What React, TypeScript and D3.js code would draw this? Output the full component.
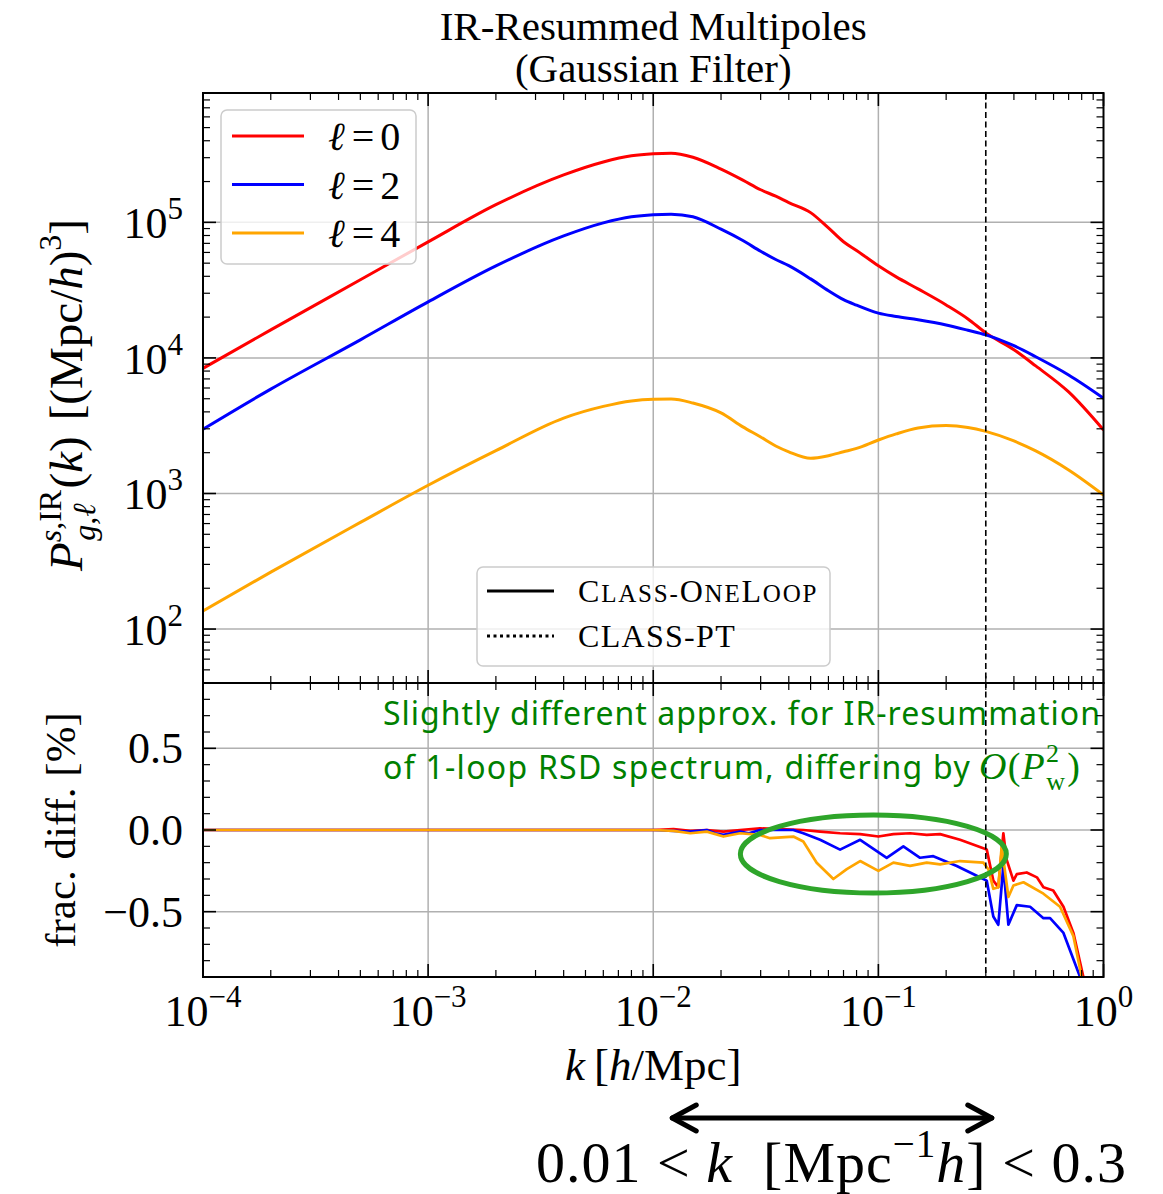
import React from 'react';
import * as d3 from 'd3';

// top panel: IR-resummed multipoles P_l(k)  [(Mpc/h)^3]
const kTop = [1e-4, 2e-4, 5e-4, 1e-3, 2e-3, 4e-3, 6e-3, 8e-3, 0.01, 0.012, 0.015, 0.02, 0.025, 0.03, 0.035, 0.04, 0.05, 0.06, 0.07, 0.08, 0.1, 0.12, 0.15, 0.2, 0.25, 0.3, 0.4, 0.5, 0.7, 1.0];
const pEll0 = [8380, 16100, 37700, 71800, 135000, 224000, 279000, 310000, 321000, 324000, 302000, 247000, 205000, 174000, 156000, 140000, 118000, 91000, 72000, 62000, 47800, 39600, 32300, 24600, 19400, 15300, 11500, 8730, 5610, 2940];
const pEll2 = [2980, 5890, 13600, 25900, 47700, 79400, 99100, 110000, 114000, 115000, 110000, 89000, 73400, 61200, 53200, 47900, 38300, 31300, 26900, 24500, 21400, 20200, 19100, 17500, 16000, 14800, 12300, 10200, 7490, 5050];
const pEll4 = [136, 263, 612, 1150, 2070, 3600, 4390, 4820, 4960, 4980, 4650, 3930, 3100, 2610, 2240, 2030, 1820, 1900, 2030, 2150, 2480, 2750, 3040, 3170, 3070, 2870, 2440, 2060, 1490, 975];

// bottom panel: fractional difference [%]
const kDiff0 = [1e-4, 0.003, 0.01, 0.0123, 0.0146, 0.0173, 0.0205, 0.0243, 0.0298, 0.0366, 0.0464, 0.0551, 0.0676, 0.083, 0.1, 0.1166, 0.1383, 0.164, 0.188, 0.2306, 0.303, 0.324, 0.341, 0.359, 0.371, 0.398, 0.412, 0.456, 0.506, 0.541, 0.598, 0.664, 0.735, 0.814, 0.86];
const diff0 = [0, 0, 0, 0.005, -0.005, 0, -0.01, 0, 0.01, 0.005, 0, -0.01, -0.02, -0.025, -0.04, -0.025, -0.02, -0.03, -0.025, -0.06, -0.12, -0.31, -0.35, -0.02, -0.18, -0.31, -0.27, -0.26, -0.29, -0.35, -0.37, -0.47, -0.63, -0.9, -1.1];
const kDiff2 = [1e-4, 0.003, 0.01, 0.0123, 0.0146, 0.0173, 0.0188, 0.0205, 0.0243, 0.0266, 0.0298, 0.0419, 0.0464, 0.0551, 0.0676, 0.083, 0.1089, 0.1291, 0.1532, 0.1754, 0.223, 0.2926, 0.303, 0.324, 0.341, 0.359, 0.378, 0.412, 0.472, 0.541, 0.579, 0.664, 0.787, 0.83];
const diff2 = [0, 0, 0, -0.005, -0.01, 0, -0.02, -0.03, -0.01, -0.02, 0, 0, -0.02, -0.06, -0.12, -0.06, -0.17, -0.1, -0.17, -0.16, -0.22, -0.3, -0.31, -0.53, -0.58, -0.22, -0.58, -0.46, -0.47, -0.54, -0.54, -0.63, -0.9, -1.1];
const kDiff4 = [1e-4, 0.003, 0.01, 0.0123, 0.0146, 0.0173, 0.0205, 0.0243, 0.0298, 0.033, 0.0419, 0.0464, 0.0532, 0.0631, 0.0724, 0.083, 0.1, 0.1166, 0.1383, 0.164, 0.188, 0.2306, 0.2926, 0.308, 0.324, 0.341, 0.353, 0.378, 0.398, 0.441, 0.541, 0.641, 0.735, 0.8, 0.84];
const diff4 = [0, 0, 0, -0.005, -0.02, -0.01, -0.04, -0.02, -0.03, -0.05, -0.04, -0.07, -0.2, -0.3, -0.24, -0.19, -0.25, -0.2, -0.22, -0.2, -0.21, -0.19, -0.2, -0.24, -0.36, -0.35, -0.1, -0.41, -0.34, -0.32, -0.39, -0.47, -0.65, -0.9, -1.1];

const ells = ['0', '2', '4'];
const colors = ['red', 'blue', 'orange'];
const xTickExps = [-4, -3, -2, -1, 0];
const yTopTickExps = [2, 3, 4, 5];
const yBotTicks = [-0.5, 0, 0.5];
const yBotTickLabels = ['\u22120.5', '0.0', '0.5'];
const kCut = 0.3;
const kRange = [0.01, 0.3];
const ellipseCenter = { k: 0.095, v: -0.147 };

const W = 1163, H = 1194;
const L = 203, R = 1103.5, T = 93, MID = 683, B = 977;
const serif = "'Liberation Serif', 'Times New Roman', Times, serif";
const sans = "'Noto Sans', 'Open Sans', sans-serif";

const x = d3.scaleLog().domain([1e-4, 1]).range([L, R]);
const yTop = d3.scaleLog().domain([40, 9e5]).range([MID, T]);
const yBot = d3.scaleLinear().domain([-0.9, 0.9]).range([B, MID]);

const topLine = d3.line<[number, number]>()
  .x(d => x(d[0]))
  .y(d => yTop(d[1]))
  .curve(d3.curveMonotoneX);
const botLine = d3.line<[number, number]>()
  .x(d => x(d[0]))
  .y(d => yBot(d[1]));

const topSeries = [pEll0, pEll2, pEll4].map(p => kTop.map((k, i) => [k, p[i]] as [number, number]));
const botSeries = [[kDiff0, diff0], [kDiff2, diff2], [kDiff4, diff4]]
  .map(([ks, vs]) => ks.map((k, i) => [k, vs[i]] as [number, number]));

const xMajor = xTickExps.map(e => Math.pow(10, e));
const xMinor: number[] = [];
for (let e = -4; e < 0; e++) for (let m = 2; m <= 9; m++) xMinor.push(m * Math.pow(10, e));
const yTopMajor = yTopTickExps.map(e => Math.pow(10, e));
const yTopMinor: number[] = [];
for (let e = 1; e <= 5; e++) for (let m = 2; m <= 9; m++) {
  const v = m * Math.pow(10, e);
  if (v >= 40 && v <= 9e5) yTopMinor.push(v);
}
const yBotMinor = d3.range(-9, 10).map(i => i / 10).filter(v => Math.abs(v * 2 - Math.round(v * 2)) > 1e-6);

const MAJ = 13, MIN = 7;

function XTicks({ y0, dir }: { y0: number; dir: number }) {
  return (
    <g stroke="black">
      {xMajor.map(v => <line key={'M' + v} x1={x(v)} x2={x(v)} y1={y0} y2={y0 + dir * MAJ} strokeWidth={1.6} />)}
      {xMinor.map(v => <line key={'m' + v} x1={x(v)} x2={x(v)} y1={y0} y2={y0 + dir * MIN} strokeWidth={1.2} />)}
    </g>
  );
}

function YTicks({ scale, major, minor }: { scale: (v: number) => number; major: number[]; minor: number[] }) {
  return (
    <g stroke="black">
      {major.map(v => (
        <g key={'M' + v}>
          <line x1={L} x2={L + MAJ} y1={scale(v)} y2={scale(v)} strokeWidth={1.6} />
          <line x1={R} x2={R - MAJ} y1={scale(v)} y2={scale(v)} strokeWidth={1.6} />
        </g>
      ))}
      {minor.map(v => (
        <g key={'m' + v}>
          <line x1={L} x2={L + MIN} y1={scale(v)} y2={scale(v)} strokeWidth={1.2} />
          <line x1={R} x2={R - MIN} y1={scale(v)} y2={scale(v)} strokeWidth={1.2} />
        </g>
      ))}
    </g>
  );
}

function Pow({ px, py, exp, anchor }: { px: number; py: number; exp: string; anchor: string }) {
  return (
    <text x={px} y={py} textAnchor={anchor} fontSize={44} fontFamily={serif}>
      10<tspan dy={-19} fontSize={31}>{exp}</tspan>
    </text>
  );
}

// small caps built by hand: [text, isCap]
const oneLoopParts: [string, boolean][] = [['C', true], ['LASS-', false], ['O', true], ['NE', false], ['L', true], ['OOP', false]];

export default function App() {
  const ec = { cx: x(ellipseCenter.k), cy: yBot(ellipseCenter.v) };
  const a0 = x(kRange[0]) + 19, a1 = x(kRange[1]) + 6, ay = 1118;
  return (
    <svg width={W} height={H} style={{ position: 'absolute', left: 0, top: 0, background: 'white' }} fontFamily={serif}>
      <defs>
        <clipPath id="clipTop"><rect x={L} y={T} width={R - L} height={MID - T} /></clipPath>
        <clipPath id="clipBot"><rect x={L} y={MID} width={R - L} height={B - MID} /></clipPath>
      </defs>

      {/* title */}
      <text x={(L + R) / 2} y={40} textAnchor="middle" fontSize={41} fontFamily={serif}>IR-Resummed Multipoles</text>
      <text x={(L + R) / 2} y={82} textAnchor="middle" fontSize={41} fontFamily={serif}>(Gaussian Filter)</text>

      {/* grid */}
      <g stroke="#b0b0b0" strokeWidth={1.5}>
        {xMajor.slice(1, -1).map(v => <line key={'gx' + v} x1={x(v)} x2={x(v)} y1={T} y2={B} />)}
        {yTopMajor.map(v => <line key={'gy' + v} x1={L} x2={R} y1={yTop(v)} y2={yTop(v)} />)}
        {yBotTicks.map(v => <line key={'gb' + v} x1={L} x2={R} y1={yBot(v)} y2={yBot(v)} />)}
      </g>

      {/* top curves */}
      <g clipPath="url(#clipTop)" fill="none" strokeWidth={3}>
        {topSeries.map((s, i) => <path key={i} d={topLine(s) || ''} stroke={colors[i]} />)}
      </g>

      {/* bottom curves */}
      <g clipPath="url(#clipBot)" fill="none" strokeWidth={2.7} strokeLinejoin="round">
        {botSeries.map((s, i) => <path key={i} d={botLine(s) || ''} stroke={colors[i]} />)}
      </g>

      {/* k cut */}
      <line x1={x(kCut)} x2={x(kCut)} y1={T} y2={B} stroke="black" strokeWidth={1.6} strokeDasharray="6,3.5" />

      {/* ellipse highlight */}
      <ellipse cx={ec.cx} cy={ec.cy} rx={133} ry={39} fill="none" stroke="#2ea52a" strokeWidth={5} />

      {/* green note */}
      <g fill="green" fontFamily={sans} fontSize={32}>
        <text x={383} y={725} textLength={717} lengthAdjust="spacing">Slightly different approx. for IR-resummation</text>
        <text x={383} y={779} textLength={697} lengthAdjust="spacing">
          of 1-loop RSD spectrum, differing by
          <tspan fontFamily={serif} fontStyle="italic" fontSize={38} dx={8}>O</tspan>
          <tspan fontFamily={serif} fontSize={38}>(</tspan>
          <tspan fontFamily={serif} fontStyle="italic" fontSize={38}>P</tspan>
          <tspan fontFamily={serif} fontSize={26} dy={-17}>2</tspan>
          <tspan fontFamily={serif} fontSize={26} dx={-14} dy={28}>w</tspan>
          <tspan fontFamily={serif} fontSize={38} dy={-11} dx={1}>)</tspan>
        </text>
      </g>

      {/* legend 1 */}
      <g>
        <rect x={221} y={110} width={195} height={154} rx={6} fill="white" fillOpacity={0.8} stroke="#cccccc" strokeWidth={1.5} />
        {ells.map((e, i) => (
          <g key={e}>
            <line x1={232} x2={304} y1={136 + i * 48.5} y2={136 + i * 48.5} stroke={colors[i]} strokeWidth={3} />
            <text x={328} y={150 + i * 48.5} fontSize={40} fontFamily={serif}>
              <tspan fontStyle="italic">ℓ</tspan>
              <tspan dx={7}>=</tspan>
              <tspan dx={6}>{e}</tspan>
            </text>
          </g>
        ))}
      </g>

      {/* legend 2 */}
      <g>
        <rect x={477} y={567} width={353} height={99} rx={6} fill="white" fillOpacity={0.8} stroke="#cccccc" strokeWidth={1.5} />
        <line x1={487} x2={554} y1={591} y2={591} stroke="black" strokeWidth={3} />
        <line x1={487} x2={554} y1={636} y2={636} stroke="black" strokeWidth={3} strokeDasharray="3,3.5" />
        <text x={578} y={602} fontFamily={serif} letterSpacing={1.8}>
          {oneLoopParts.map(([s, cap], i) => <tspan key={i} fontSize={cap ? 32 : 25}>{s}</tspan>)}
        </text>
        <text x={578} y={647} fontSize={32} fontFamily={serif} letterSpacing={1.3}>CLASS-PT</text>
      </g>

      {/* spines and ticks */}
      <XTicks y0={T} dir={1} />
      <XTicks y0={MID} dir={-1} />
      <XTicks y0={MID} dir={1} />
      <XTicks y0={B} dir={-1} />
      <YTicks scale={yTop} major={yTopMajor} minor={yTopMinor} />
      <YTicks scale={yBot} major={yBotTicks} minor={yBotMinor} />
      <g fill="none" stroke="black" strokeWidth={2}>
        <rect x={L} y={T} width={R - L} height={MID - T} />
        <rect x={L} y={MID} width={R - L} height={B - MID} />
      </g>

      {/* tick labels */}
      {xTickExps.map(e => (
        <Pow key={'xl' + e} px={x(Math.pow(10, e))} py={1026} exp={e < 0 ? '\u2212' + (-e) : String(e)} anchor="middle" />
      ))}
      {yTopTickExps.map(e => (
        <Pow key={'yl' + e} px={183} py={yTop(Math.pow(10, e)) + 16} exp={String(e)} anchor="end" />
      ))}
      {yBotTicks.map((v, i) => (
        <text key={'bl' + v} x={183} y={yBot(v) + 15} textAnchor="end" fontSize={44} fontFamily={serif}>{yBotTickLabels[i]}</text>
      ))}

      {/* axis labels */}
      <text x={(L + R) / 2} y={1080} textAnchor="middle" fontSize={45} fontFamily={serif}>
        <tspan fontStyle="italic">k</tspan>{'\u2009'}[<tspan fontStyle="italic">h</tspan>/Mpc]
      </text>
      <text transform="translate(82,395) rotate(-90)" textAnchor="middle" fontSize={47} fontFamily={serif}>
        <tspan fontStyle="italic">P</tspan>
        <tspan fontSize={32} dy={-21}><tspan fontStyle="italic">s</tspan>,IR</tspan>
        <tspan fontSize={32} fontStyle="italic" dx={-51} dy={34}>g,ℓ</tspan>
        <tspan dx={15} dy={-13}>(<tspan fontStyle="italic">k</tspan>)</tspan>
        <tspan dx={16}>[(Mpc/<tspan fontStyle="italic">h</tspan>)</tspan>
        <tspan fontSize={32} dy={-21}>3</tspan>
        <tspan dy={21}>]</tspan>
      </text>
      <text transform="translate(75,830) rotate(-90)" textAnchor="middle" fontSize={43} fontFamily={serif}>frac. diff. [%]</text>

      {/* k range annotation */}
      <g stroke="black" strokeWidth={5} fill="none" strokeLinecap="round" strokeLinejoin="round">
        <line x1={a0} x2={a1} y1={ay} y2={ay} />
        <polyline points={`${a0 + 24},${ay - 13} ${a0},${ay} ${a0 + 24},${ay + 13}`} />
        <polyline points={`${a1 - 24},${ay - 13} ${a1},${ay} ${a1 - 24},${ay + 13}`} />
      </g>
      <text x={536} y={1182} fontSize={58} fontFamily={serif} textLength={590} lengthAdjust="spacing">
        0.01 {'<'} <tspan fontStyle="italic">k</tspan>{'\u2002'}[Mpc<tspan fontSize={39} dy={-25}>{'\u2212'}1</tspan><tspan dy={25} fontStyle="italic">h</tspan>] {'<'} 0.3
      </text>
    </svg>
  );
}
